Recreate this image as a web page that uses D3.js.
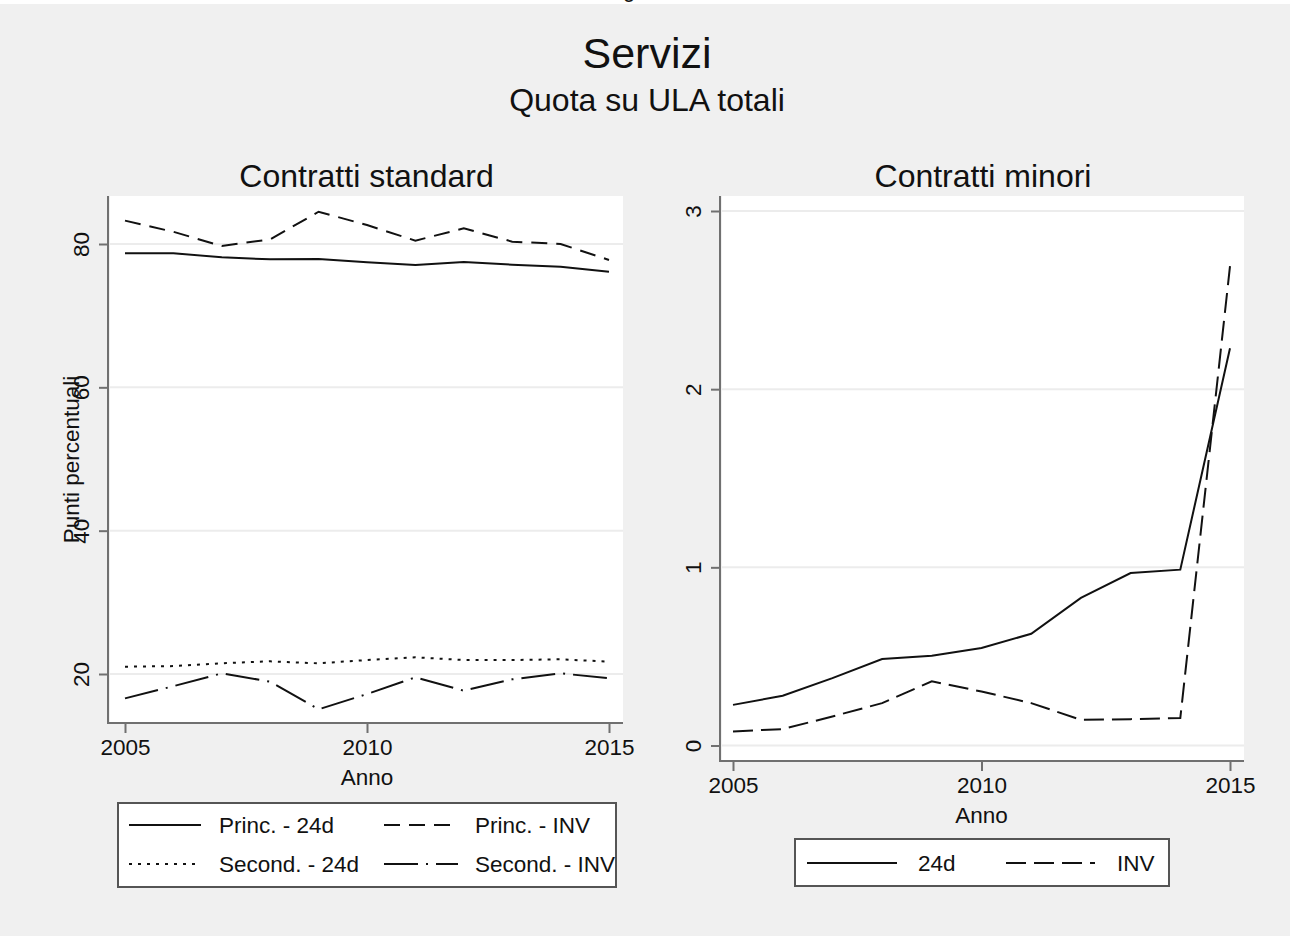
<!DOCTYPE html>
<html>
<head>
<meta charset="utf-8">
<script src="https://cdn.jsdelivr.net/npm/d3@7"></script>
<style>
  body { margin: 0; background: #f0f0f0; }
  text { font-family: "Liberation Sans", Arial, sans-serif; fill: #111; }
</style>
</head>
<body>
<svg id="chart" width="1290" height="936"></svg>
<script>
// values
const years = [2005, 2006, 2007, 2008, 2009, 2010, 2011, 2012, 2013, 2014, 2015];
const princ24d = [78.7, 78.7, 78.14, 77.86, 77.9, 77.44, 77.07, 77.49, 77.12, 76.84, 76.14];
const princInv = [83.26, 81.7, 79.72, 80.65, 84.5, 82.65, 80.47, 82.19, 80.33, 80.0, 77.77];
const second24d = [21.02, 21.1, 21.49, 21.77, 21.49, 21.95, 22.33, 21.95, 21.95, 22.05, 21.72];
const secondInv = [16.6, 18.3, 20.09, 18.93, 15.07, 17.2, 19.53, 17.67, 19.26, 20.09, 19.4];
const minori24d = [0.228, 0.279, 0.378, 0.485, 0.504, 0.547, 0.627, 0.828, 0.968, 0.987, 2.23];
const minoriInv = [0.079, 0.092, 0.163, 0.238, 0.36, 0.303, 0.238, 0.144, 0.148, 0.154, 2.69];

const xTicks = [2005, 2010, 2015];
const leftYTicks = [20, 40, 60, 80];
const rightYTicks = [0, 1, 2, 3];
const leftLegendLabels = ["Princ. - 24d", "Princ. - INV", "Second. - 24d", "Second. - INV"];
const rightLegendLabels = ["24d", "INV"];

const svg = d3.select("#chart");
const FS = 22.5;

// strip of the page above the figure
svg.append("rect").attr("x", 0).attr("y", 0).attr("width", 1290).attr("height", 4).attr("fill", "#fff");
svg.append("text").attr("x", 629).attr("y", -3).attr("text-anchor", "middle")
  .attr("font-size", 22).text("g");

// main titles
svg.append("text").attr("x", 647).attr("y", 68).attr("text-anchor", "middle")
  .attr("font-size", 43).text("Servizi");
svg.append("text").attr("x", 647).attr("y", 111).attr("text-anchor", "middle")
  .attr("font-size", 32).text("Quota su ULA totali");

const dashes = {
  solid: null,
  dash: "16,9",
  dot: "3,6",
  longdashDot: "34,8,2,8",
  dashR: "20,8",
};

function drawPanel(p) {
  const x = d3.scaleLinear().domain([2005, 2015]).range(p.xr);
  const y = d3.scaleLinear().domain(p.yd).range(p.yr);
  const g = svg.append("g");

  // plot region
  g.append("rect")
    .attr("x", p.box[0]).attr("y", p.box[1])
    .attr("width", p.box[2] - p.box[0]).attr("height", p.box[3] - p.box[1])
    .attr("fill", "#fff");

  // grid lines
  g.selectAll(".grid").data(p.yTicks).join("line")
    .attr("x1", p.box[0]).attr("x2", p.box[2])
    .attr("y1", (d) => y(d)).attr("y2", (d) => y(d))
    .attr("stroke", "#ececec").attr("stroke-width", 2);

  // panel title
  g.append("text").attr("x", (p.box[0] + p.box[2]) / 2).attr("y", 187)
    .attr("text-anchor", "middle").attr("font-size", 32).text(p.title);

  // Y axis
  const yAxis = g.append("g")
    .attr("transform", `translate(${p.box[0] - 2},0)`)
    .call(d3.axisLeft(y).tickValues(p.yTicks).tickSize(9).tickFormat(d3.format("d")));
  yAxis.select(".domain").remove();
  yAxis.selectAll(".tick line").attr("stroke", "#707070").attr("stroke-width", 2);
  yAxis.selectAll(".tick text")
    .attr("x", 0).attr("y", -19).attr("dy", 0)
    .attr("transform", "rotate(-90)")
    .attr("text-anchor", "middle")
    .attr("font-size", FS).attr("font-family", null).attr("fill", "#111");
  g.append("line")
    .attr("x1", p.box[0] - 2).attr("x2", p.box[0] - 2)
    .attr("y1", p.box[1]).attr("y2", p.box[3] + 1)
    .attr("stroke", "#707070").attr("stroke-width", 2);

  // X axis
  const xAxis = g.append("g")
    .attr("transform", `translate(0,${p.box[3]})`)
    .call(d3.axisBottom(x).tickValues(xTicks).tickSize(10).tickFormat(d3.format("d")));
  xAxis.select(".domain").remove();
  xAxis.selectAll(".tick line").attr("stroke", "#707070").attr("stroke-width", 2);
  xAxis.selectAll(".tick text")
    .attr("y", 32).attr("dy", 0)
    .attr("font-size", FS).attr("font-family", null).attr("fill", "#111");
  g.append("line")
    .attr("x1", p.box[0] - 3).attr("x2", p.box[2])
    .attr("y1", p.box[3]).attr("y2", p.box[3])
    .attr("stroke", "#707070").attr("stroke-width", 2);

  g.append("text").attr("x", x(2010)).attr("y", p.box[3] + 62)
    .attr("text-anchor", "middle").attr("font-size", FS).text("Anno");

  if (p.yTitle) {
    g.append("text")
      .attr("transform", `translate(79,${(p.box[1] + p.box[3]) / 2}) rotate(-90)`)
      .attr("text-anchor", "middle").attr("font-size", FS).text(p.yTitle);
  }

  // lines
  const line = d3.line().x((d) => x(d[0])).y((d) => y(d[1]));
  p.series.forEach((s) => {
    g.append("path")
      .datum(years.map((yr, i) => [yr, s.values[i]]))
      .attr("fill", "none")
      .attr("stroke", "#111")
      .attr("stroke-width", 2)
      .attr("stroke-dasharray", s.dash)
      .attr("d", line);
  });

  // legend
  const L = p.legend;
  g.append("rect")
    .attr("x", L.x).attr("y", L.y).attr("width", L.w).attr("height", L.h)
    .attr("fill", "#fff").attr("stroke", "#555").attr("stroke-width", 2);
  p.series.forEach((s, i) => {
    const col = i % L.cols;
    const row = Math.floor(i / L.cols);
    const cy = L.rows[row];
    const sx = L.sample[col];
    g.append("line")
      .attr("x1", sx[0]).attr("x2", sx[1]).attr("y1", cy).attr("y2", cy)
      .attr("stroke", "#111").attr("stroke-width", 2)
      .attr("stroke-dasharray", s.dash);
    g.append("text").attr("x", L.textX[col]).attr("y", cy + 8)
      .attr("font-size", FS).text(s.label);
  });
}

drawPanel({
  title: "Contratti standard",
  xr: [125, 609],
  yd: [20, 80],
  yr: [674, 244],
  box: [110, 196, 623, 723],
  yTicks: leftYTicks,
  yTitle: "Punti percentuali",
  series: [
    { values: princ24d, dash: dashes.solid, label: leftLegendLabels[0] },
    { values: princInv, dash: dashes.dash, label: leftLegendLabels[1] },
    { values: second24d, dash: dashes.dot, label: leftLegendLabels[2] },
    { values: secondInv, dash: dashes.longdashDot, label: leftLegendLabels[3] },
  ],
  legend: {
    x: 118, y: 803, w: 498, h: 84, cols: 2,
    rows: [825, 864],
    sample: [[129, 201], [384, 458]],
    textX: [219, 475],
  },
});

drawPanel({
  title: "Contratti minori",
  xr: [733, 1230],
  yd: [0, 3],
  yr: [745.5, 211],
  box: [722, 196, 1244, 761],
  yTicks: rightYTicks,
  yTitle: null,
  series: [
    { values: minori24d, dash: dashes.solid, label: rightLegendLabels[0] },
    { values: minoriInv, dash: dashes.dashR, label: rightLegendLabels[1] },
  ],
  legend: {
    x: 795, y: 839, w: 374, h: 47, cols: 2,
    rows: [863],
    sample: [[807, 897], [1006, 1095]],
    textX: [918, 1117],
  },
});
</script>
</body>
</html>
